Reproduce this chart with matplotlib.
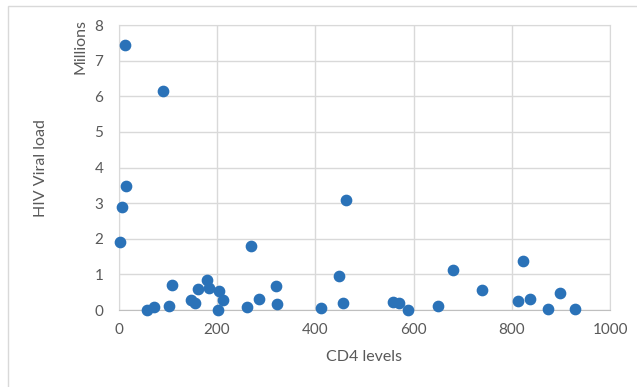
import matplotlib.pyplot as plt
from matplotlib.patches import Rectangle

# CD4 levels vs HIV viral load (millions)
cd4 = [12, 90, 14, 7, 3, 269, 108, 180, 183, 161, 205, 212, 147, 155, 103, 71, 58, 202,
       260, 286, 320, 323, 412, 449, 456, 462, 558, 570, 588, 649, 680, 738, 823, 813,
       836, 874, 897, 929]
viral = [7.44, 6.15, 3.49, 2.88, 1.90, 1.79, 0.69, 0.85, 0.62, 0.60, 0.52, 0.27, 0.28,
         0.20, 0.12, 0.08, 0.01, 0.01, 0.08, 0.30, 0.67, 0.16, 0.06, 0.95, 0.20, 3.08,
         0.22, 0.19, 0.00, 0.11, 1.12, 0.56, 1.37, 0.25, 0.30, 0.03, 0.48, 0.02]

xticks = [0, 200, 400, 600, 800, 1000]
yticks = [0, 1, 2, 3, 4, 5, 6, 7, 8]

plt.rcParams['font.family'] = ['Lato', 'DejaVu Sans']
grey = '#595959'

fig = plt.figure(figsize=(6.37, 3.87), dpi=100)
W, H = 637, 387
ax = fig.add_axes([118.7 / W, 1 - 310 / H, (610.3 - 118.7) / W, (310 - 25) / H])

# outer chart border (only left and top visible)
fig.patches.append(Rectangle((8 / W, -0.1), 1.2, 1 - 6 / H + 0.1, transform=fig.transFigure,
                             fill=False, edgecolor='#d9d9d9', linewidth=1))

ax.scatter(cd4, viral, s=55, color='#2a72b8', zorder=3, clip_on=False)

ax.set_xlim(0, 1000)
ax.set_ylim(0, 8)
ax.set_xticks(xticks)
ax.set_yticks(yticks)
ax.grid(True, color='#d9d9d9', linewidth=1)
ax.set_axisbelow(True)
for s in ['top', 'right', 'left']:
    ax.spines[s].set_color('#d9d9d9')
ax.spines['bottom'].set_color('#bfbfbf')
ax.tick_params(length=0, colors=grey, labelsize=11)
ax.tick_params(axis='y', pad=11)
ax.tick_params(axis='x', pad=9)

fig.text(364.5 / W, 1 - 357 / H, 'CD4 levels', ha='center', va='center', fontsize=11.5, color=grey)
fig.text(41 / W, 1 - 168 / H, 'HIV Viral load', ha='center', va='center', rotation=90,
         fontsize=11.5, color=grey)
fig.text(80 / W, 1 - 47 / H, 'Millions', ha='center', va='center', rotation=90,
         fontsize=11.5, color=grey)

fig.savefig('out.png', dpi=100)
